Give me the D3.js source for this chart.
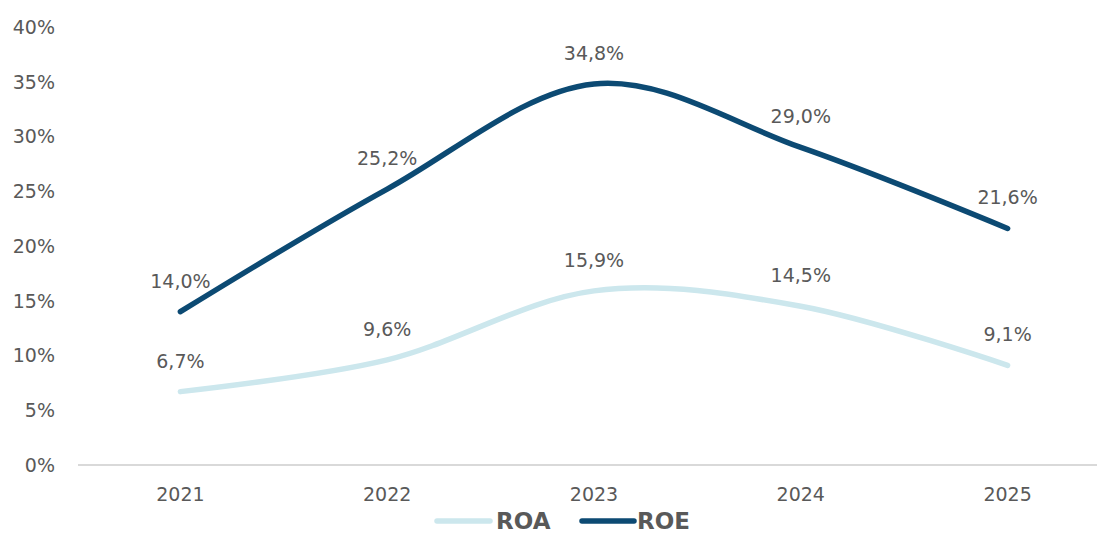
<!DOCTYPE html>
<html><head><meta charset="utf-8">
<script src="https://cdn.jsdelivr.net/npm/d3@7"></script>
<style>body{margin:0;background:#fff}svg{display:block}</style>
</head><body>
<svg id="c" width="1099" height="534"></svg>
<script>
const years = ["2021","2022","2023","2024","2025"];
const roa = [6.7, 9.6, 15.9, 14.5, 9.1];
const roe = [14.0, 25.2, 34.8, 29.0, 21.6];
const yTicks = [0,5,10,15,20,25,30,35,40];
const seriesNames = ["ROA","ROE"];
const seriesColors = ["#cce7ed","#0c4a73"];

const svg = d3.select("#c");
const font = "DejaVu Sans, sans-serif";
const textCol = "#595959";

const x = d3.scaleBand().domain(years).range([77, 1111]);
const y = d3.scaleLinear().domain([0,40]).range([465, 27]);
const cx = d => x(d) + x.bandwidth()/2;

// y tick labels
svg.append("g").selectAll("text").data(yTicks).join("text")
  .attr("x", 55).attr("y", d => y(d)).attr("dy", "0.36em")
  .attr("text-anchor","end").attr("font-family",font).attr("font-size",19)
  .attr("fill",textCol).text(d => d + "%");

// axis line
svg.append("line").attr("x1",78).attr("x2",1097).attr("y1",y(0)).attr("y2",y(0))
  .attr("stroke","#d9d9d9").attr("stroke-width",2);

// x labels
svg.append("g").selectAll("text").data(years).join("text")
  .attr("x", d => cx(d)).attr("y", 501).attr("text-anchor","middle")
  .attr("font-family",font).attr("font-size",19).attr("fill",textCol).text(d => d);

const line = d3.line().x((d,i) => cx(years[i])).y(d => y(d)).curve(d3.curveCardinal.tension(0));
[roa, roe].forEach((s, k) => {
  svg.append("path").datum(s).attr("d", line).attr("fill","none")
    .attr("stroke", seriesColors[k]).attr("stroke-width",5.5).attr("stroke-linecap","round");
  svg.append("g").selectAll("text").data(s).join("text")
    .attr("x",(d,i)=>cx(years[i])).attr("y", d => y(d) - 24)
    .attr("text-anchor","middle").attr("font-family",font).attr("font-size",19)
    .attr("fill",textCol).text(d => d.toFixed(1).replace(".", ",") + "%");
});

// legend
const leg = [{x1:437,x2:490,tx:496},{x1:582,x2:634,tx:637}];
leg.forEach((l,k) => {
  svg.append("line").attr("x1",l.x1).attr("x2",l.x2).attr("y1",521).attr("y2",521)
    .attr("stroke",seriesColors[k]).attr("stroke-width",5.5).attr("stroke-linecap","round");
  svg.append("text").attr("x",l.tx).attr("y",529).attr("font-family",font)
    .attr("font-size",23).attr("font-weight","bold").attr("fill",textCol).text(seriesNames[k]);
});
</script>
</body></html>
